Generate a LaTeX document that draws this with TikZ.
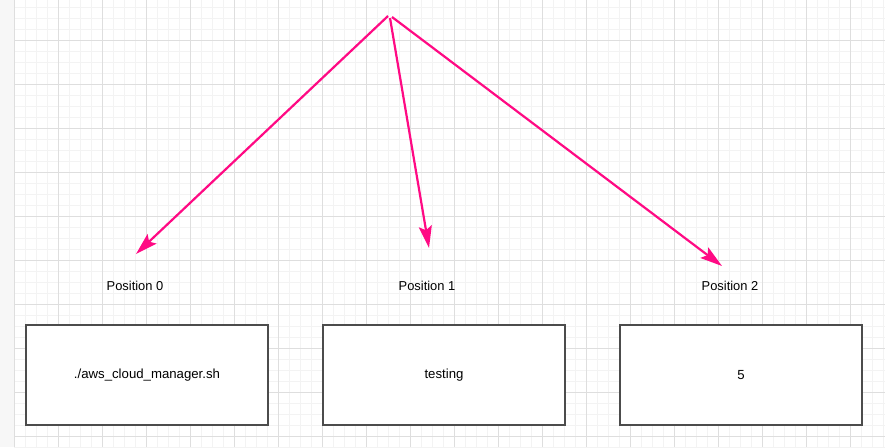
\documentclass[tikz,border=0pt]{standalone}
\usepackage{fontspec}
\setmainfont{Liberation Sans}
\usepackage{tikz}
\usetikzlibrary{arrows.meta}

\definecolor{pinkline}{HTML}{FF0A84}
\definecolor{gridminor}{HTML}{F3F3F3}
\definecolor{gridmajor}{HTML}{DEDEDE}
\definecolor{sidebar}{HTML}{F7F7F7}

\tikzset{
  valbox/.style={draw=black!70, line width=1.4pt, fill=white, minimum width=242pt, minimum height=100pt, inner sep=0pt, font=\fontsize{13.2pt}{15pt}\selectfont},
  poslabel/.style={inner sep=0pt, font=\fontsize{12.9pt}{15pt}\selectfont},
  pointer/.style={pinkline, line width=2.2pt, -{Stealth[length=22pt, width=13pt, inset=4pt]}}
}

\begin{document}
\begin{tikzpicture}[x=1pt, y=-1pt]
    \useasboundingbox (0,0) rectangle (885,447);

    % draw background and grid
    \fill[white] (0,0) rectangle (885,447);
    \fill[sidebar] (0,0) rectangle (14,447);
    \foreach \x in {25,36,...,885}
    \draw[gridminor, line width=0.8pt] (\x,0) -- (\x,447);
    \foreach \y in {7,18,...,447}
    \draw[gridminor, line width=0.8pt] (14,\y) -- (885,\y);
    \foreach \x in {58,102,...,885}
    \draw[gridmajor, line width=0.8pt] (\x,0) -- (\x,447);
    \foreach \y in {40,84,...,447}
    \draw[gridmajor, line width=0.8pt] (14,\y) -- (885,\y);
    \draw[gridmajor, line width=1pt] (14,0) -- (14,447);

    % draw boxes
    \node[valbox] (script) at (147,375) {./aws\_cloud\_manager.sh};
    \node[valbox] (testing) at (444,375) {testing};
    \node[valbox] (five) at (741,375) {5};

    % draw labels
    \node[poslabel] (pos0) at (135,286) {Position 0};
    \node[poslabel] (pos1) at (427,286) {Position 1};
    \node[poslabel] (pos2) at (730,286) {Position 2};

    % draw arrows
    \coordinate (top0) at (388,16);
    \coordinate (top1) at (390,18);
    \coordinate (top2) at (392,17);
    \coordinate (tip0) at (136,254);
    \coordinate (tip1) at (429,248);
    \coordinate (tip2) at (722,266);
    \draw[pointer] (top0) -- (tip0);
    \draw[pointer] (top1) -- (tip1);
    \draw[pointer] (top2) -- (tip2);

  \end{tikzpicture}
\end{document}
